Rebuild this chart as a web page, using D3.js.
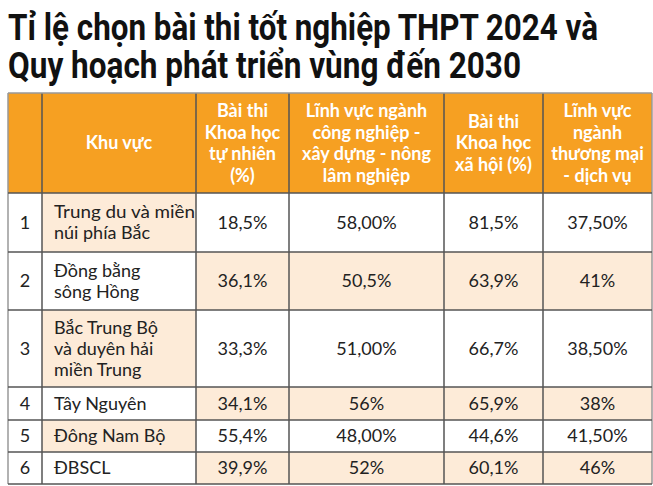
<!DOCTYPE html>
<html><head><meta charset="utf-8">
<script src="https://cdn.jsdelivr.net/npm/d3@7.9.0/dist/d3.min.js"></script>
<style>body{margin:0;background:#fff}</style></head>
<body><svg width="653" height="486"></svg>
<script>
const titleLines = ['Tỉ lệ chọn bài thi tốt nghiệp THPT 2024 và', 'Quy hoạch phát triển vùng đến 2030'];
const headers = [[], ['Khu vực'], ['Bài thi', 'Khoa học', 'tự nhiên', '(%)'],
  ['Lĩnh vực ngành', 'công nghiệp -', 'xây dựng - nông', 'lâm nghiệp'],
  ['Bài thi', 'Khoa học', 'xã hội (%)'], ['Lĩnh vực', 'ngành', 'thương mại', '- dịch vụ']];
const regions = [['Trung du và miền', 'núi phía Bắc'], ['Đồng bằng', 'sông Hồng'],
  ['Bắc Trung Bộ', 'và duyên hải', 'miền Trung'], ['Tây Nguyên'], ['Đông Nam Bộ'], ['ĐBSCL']];
const natSci = ['18,5%', '36,1%', '33,3%', '34,1%', '55,4%', '39,9%'];
const industry = ['58,00%', '50,5%', '51,00%', '56%', '48,00%', '52%'];
const socSci = ['81,5%', '63,9%', '66,7%', '65,9%', '44,6%', '60,1%'];
const trade = ['37,50%', '41%', '38,50%', '38%', '41,50%', '46%'];

const svg = d3.select('svg');
const font = 'Lato, "Open Sans", sans-serif';
const colX = [8, 42, 196, 289, 444, 543, 652];
const rowY = [93, 193, 252, 310, 387, 420, 452, 484];
const orange = '#f6a022', shade = '#fdebd8', line = '#555';

svg.selectAll('.title').data(titleLines).join('text')
  .attr('x', 8).attr('y', (d, i) => 40 + i * 38)
  .attr('textLength', (d, i) => i ? 513 : 590).attr('lengthAdjust', 'spacingAndGlyphs')
  .style('font', 'bold 37px Roboto, sans-serif').attr('fill', '#111').text(d => d);

svg.append('rect').attr('x', colX[0]).attr('y', rowY[0]).attr('width', colX[6] - colX[0])
  .attr('height', rowY[1] - rowY[0]).attr('fill', orange);

const rows = regions.map((r, i) => [[String(i + 1)], r, [natSci[i]], [industry[i]], [socSci[i]], [trade[i]]]);
rows.forEach((cells, i) => {
  const y0 = rowY[i + 1], y1 = rowY[i + 2];
  cells.forEach((lines, c) => {
    const odd = i % 2 === 0;
    const fill = c === 0 ? '#fff' : (c === 1 ? (odd ? shade : '#fff') : (odd ? '#fff' : shade));
    svg.append('rect').attr('x', colX[c]).attr('y', y0).attr('width', colX[c + 1] - colX[c])
      .attr('height', y1 - y0).attr('fill', fill);
    const cy = (y0 + y1) / 2 - (lines.length - 1) * 10.5;
    svg.append('g').selectAll('text').data(lines).join('text')
      .attr('x', c === 1 ? colX[1] + 12 : (colX[c] + colX[c + 1]) / 2)
      .attr('y', (d, k) => cy + k * 21).attr('dy', '0.35em')
      .attr('text-anchor', c === 1 ? 'start' : 'middle')
      .style('font', `18px ${font}`)
      .attr('textLength', c === 1 ? (d => d.length > 12 ? 141 : null) : null)
      .attr('lengthAdjust', 'spacingAndGlyphs')
      .attr('fill', '#222').text(d => d);
  });
});

headers.forEach((lines, c) => {
  const cy = (rowY[0] + rowY[1]) / 2 - (lines.length - 1) * 10.8;
  svg.append('g').selectAll('text').data(lines).join('text')
    .attr('x', (colX[c] + colX[c + 1]) / 2).attr('y', (d, k) => cy + k * 21.6).attr('dy', '0.35em')
    .attr('text-anchor', 'middle').style('font', `bold 18px ${font}`).attr('fill', '#fff').text(d => d);
});

svg.selectAll('.v').data(colX).join('line')
  .attr('x1', d => d).attr('x2', d => d).attr('y1', rowY[0]).attr('y2', rowY[7])
  .attr('stroke', (d, i) => i === 0 || i === 6 ? '#999' : line).attr('stroke-width', 1.5);
svg.selectAll('.h').data(rowY).join('line')
  .attr('x1', colX[0]).attr('x2', colX[6]).attr('y1', d => d).attr('y2', d => d)
  .attr('stroke', (d, i) => i === 0 ? '#999' : line).attr('stroke-width', 1.5);
</script></body></html>
